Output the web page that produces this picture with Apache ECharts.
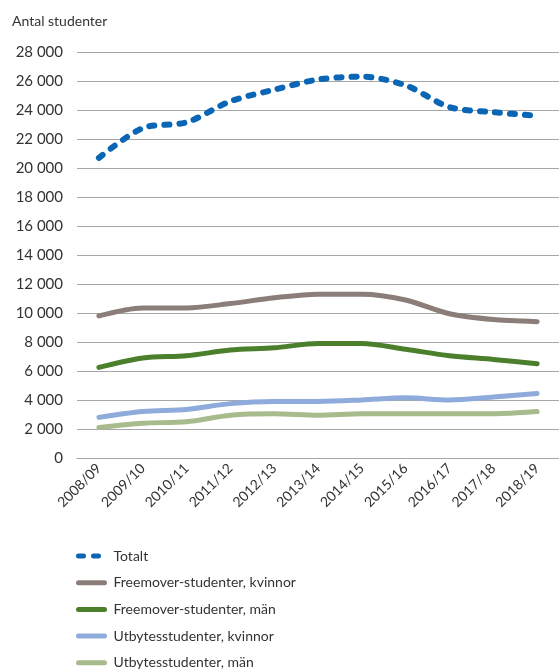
<!DOCTYPE html>
<html>
<head>
<meta charset="utf-8">
<script src="https://cdn.jsdelivr.net/npm/echarts@6/dist/echarts.min.js"></script>
<style>
  html, body { margin: 0; padding: 0; background: #fff; }
  #chart { width: 559px; height: 671px; }
</style>
</head>
<body>
<div id="chart"></div>
<script>
var years = ['2008/09', '2009/10', '2010/11', '2011/12', '2012/13', '2013/14', '2014/15', '2015/16', '2016/17', '2017/18', '2018/19'];
var totalt = [20700, 22750, 23150, 24600, 25400, 26100, 26300, 25700, 24200, 23850, 23600];
var freeKvinnor = [9800, 10350, 10350, 10650, 11050, 11300, 11300, 10900, 9950, 9550, 9400];
var freeMan = [6250, 6900, 7050, 7450, 7600, 7900, 7900, 7500, 7050, 6800, 6500];
var utbKvinnor = [2800, 3200, 3350, 3750, 3900, 3900, 4000, 4150, 4000, 4200, 4450];
var utbMan = [2100, 2400, 2500, 2950, 3050, 2950, 3050, 3050, 3050, 3050, 3200];

var font = 'Lato';
var txt = '#333333';

var chart = echarts.init(document.getElementById('chart'));

function serie(name, data, color, width, dashed) {
  return {
    name: name,
    type: 'line',
    data: data,
    smooth: 0.3,
    symbol: 'none',
    lineStyle: {
      color: color,
      width: width,
      type: dashed ? [5, 10] : 'solid',
      cap: 'round'
    },
    itemStyle: { color: color }
  };
}

chart.setOption({
  animation: false,
  title: {
    text: 'Antal studenter',
    left: 7,
    top: 9,
    textStyle: { fontFamily: font, fontSize: 14, fontWeight: 'normal', color: txt }
  },
  grid: {
    left: 77,
    right: -9,
    top: 52,
    bottom: 213
  },
  legend: {
    orient: 'vertical',
    left: 76,
    top: 549,
    padding: 0,
    height: 130,
    itemWidth: 26,
    itemHeight: 14,
    itemGap: 12.7,
    itemStyle: { opacity: 0 },
    lineStyle: { width: 5 },
    textStyle: { fontFamily: font, fontSize: 14, color: txt, padding: [0, 0, 0, 4] }
  },
  xAxis: {
    type: 'category',
    data: years,
    boundaryGap: true,
    axisTick: { show: false },
    axisLine: { lineStyle: { color: '#a6a6a6', width: 1 } },
    axisLabel: {
      rotate: 45,
      margin: 8,
      fontFamily: font,
      fontSize: 14,
      color: txt
    }
  },
  yAxis: {
    type: 'value',
    min: 0,
    max: 28000,
    interval: 2000,
    axisLine: { show: false },
    axisTick: { show: false },
    splitLine: { lineStyle: { color: '#a6a6a6', width: 1 } },
    axisLabel: {
      margin: 14,
      fontFamily: font,
      fontSize: 15,
      color: txt,
      formatter: function (v) {
        return String(v).replace(/\B(?=(\d{3})+(?!\d))/g, ' ');
      }
    }
  },
  series: [
    serie('Totalt', totalt, '#0a66b5', 6, true),
    serie('Freemover-studenter, kvinnor', freeKvinnor, '#8b7d78', 5, false),
    serie('Freemover-studenter, män', freeMan, '#4b7f2b', 5, false),
    serie('Utbytesstudenter, kvinnor', utbKvinnor, '#8eabdc', 5, false),
    serie('Utbytesstudenter, män', utbMan, '#a8bb8c', 5, false)
  ]
});
</script>
</body>
</html>
